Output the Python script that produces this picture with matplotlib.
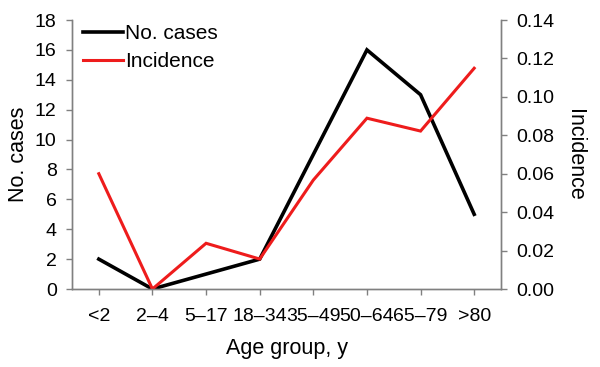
import matplotlib
matplotlib.use("Agg")
import matplotlib.pyplot as plt
import numpy as np

plt.rcParams['font.family'] = ['Liberation Sans', 'DejaVu Sans']

# Data
age_groups = ['<2', '2–4', '5–17', '18–34', '35–49', '50–64', '65–79', '>80']
cases = [2, 0, 1, 2, 9, 16, 13, 5]
incidence = [0.060, 0.0, 0.0238, 0.0156, 0.0567, 0.0889, 0.0822, 0.1149]

spine_color = '#808080'

fig = plt.figure(figsize=(6, 3.67), dpi=100)
ax = fig.add_axes([0.12, 0.2125, 0.715, 0.733])
ax2 = ax.twinx()

x = np.arange(len(age_groups))
l1, = ax.plot(x, cases, color='black', lw=2.6, label='No. cases', solid_joinstyle='miter')
l2, = ax2.plot(x, incidence, color='#ee1c1c', lw=2.2, label='Incidence', solid_joinstyle='miter')

ax.set_xlim(-0.5, len(age_groups) - 0.5)
ax.set_ylim(0, 18)
ax.set_yticks(range(0, 19, 2))
ax2.set_ylim(0, 0.14)
ax2.set_yticks(np.arange(0, 0.141, 0.02))
ax2.set_yticklabels([f"{v:.2f}" for v in np.arange(0, 0.141, 0.02)])

ax.set_xticks(x)
ax.set_xticklabels(age_groups)

for a in (ax, ax2):
    a.spines['top'].set_visible(False)
    for s in ('left', 'right', 'bottom'):
        a.spines[s].set_color(spine_color)
        a.spines[s].set_linewidth(1.0)
    a.tick_params(colors=spine_color, labelcolor='black', labelsize=14, length=4, width=1, pad=7)
ax.tick_params(axis='x', pad=10)

ax.set_xlabel('Age group, y', fontsize=15.5, labelpad=9)
ax.set_ylabel('No. cases', fontsize=15.5, labelpad=4)
ax2.set_ylabel('Incidence', fontsize=15.5, rotation=270, labelpad=22)

ax.legend([l1, l2], ['No. cases', 'Incidence'], loc='upper left', frameon=False,
          fontsize=15, handlelength=1.9, handletextpad=0.1, borderaxespad=0,
          borderpad=0, labelspacing=0.45, bbox_to_anchor=(0.026, 0.985))

fig.savefig('out.png', dpi=100)
